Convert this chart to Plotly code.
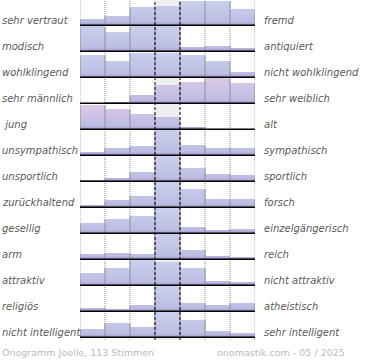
import plotly.graph_objects as go

left_labels = ["sehr vertraut", "modisch", "wohlklingend", "sehr männlich", " jung",
               "unsympathisch", "unsportlich", "zurückhaltend", "gesellig", "arm",
               "attraktiv", "religiös", "nicht intelligent"]
right_labels = ["fremd", "antiquiert", "nicht wohlklingend", "sehr weiblich", "alt",
                "sympathisch", "sportlich", "forsch", "einzelgängerisch", "reich",
                "nicht attraktiv", "atheistisch", "sehr intelligent"]

# bar heights per row (7 positions, scale 0..25, centre column clipped at 25)
row_vertraut = [6, 8.7, 17.7, 18.7, 24, 23.3, 15.3]
row_modisch = [24.3, 18.7, 24.3, 24.3, 3.7, 4.7, 2.3]
row_wohl = [22, 15.3, 23.7, 23.7, 21.3, 15.3, 4.7]
row_maennlich = [0, 0.5, 7.5, 17.8, 20.3, 24.4, 19.4]
row_jung = [23.7, 19.4, 15, 11.2, 2, 0, 0]
row_sympath = [2.3, 6.7, 8.3, 25, 10, 6.7, 6.7]
row_sport = [0.5, 2.7, 8.3, 25, 12.7, 7, 6]
row_forsch = [2, 6.3, 11, 25, 17.7, 7.7, 7.7]
row_gesellig = [10, 13.3, 17, 25, 5.7, 3, 4]
row_arm = [5, 6, 5, 25, 9, 2.3, 1.3]
row_attraktiv = [11.7, 16.7, 25, 22.7, 16.7, 3.3, 2.3]
row_religioes = [2.7, 1.7, 6, 25, 7.7, 6, 7.7]
row_intelligent = [8, 14, 10, 25, 16.7, 5.7, 3.3]

rows = [row_vertraut, row_modisch, row_wohl, row_maennlich, row_jung, row_sympath,
        row_sport, row_forsch, row_gesellig, row_arm, row_attraktiv, row_religioes,
        row_intelligent]
pink_rows = {3, 4}

ROW_PITCH = 26
ROW_H = 25
N = len(rows)
TOP = (N - 1) * ROW_PITCH + ROW_H  # 337


def baseline(r):
    return (N - 1 - r) * ROW_PITCH


def hex2rgb(h):
    h = h.lstrip("#")
    return [int(h[i:i + 2], 16) for i in (0, 2, 4)]


def mix(a, b, f):
    a, b = hex2rgb(a), hex2rgb(b)
    return "rgb(%d,%d,%d)" % tuple(round(a[i] + (b[i] - a[i]) * f) for i in range(3))


def color_at(t, pink):
    if t < 3:
        return mix("#a296ca", "#bcbde3", t / 3)
    top = "#e0c8e8" if pink else "#cad1ed"
    return mix("#bcbde3", top, min(1, (t - 3) / 22))


fig = go.Figure()

# gradient slices (1 unit each)
for k in range(ROW_H):
    xs, ys, bs, cs = [], [], [], []
    for r, vals in enumerate(rows):
        for c, v in enumerate(vals):
            hgt = min(max(v - k, 0), 1)
            if hgt > 0:
                xs.append(c + 0.5)
                ys.append(hgt)
                bs.append(baseline(r) + k)
                cs.append(color_at(k + 0.5, r in pink_rows))
    if xs:
        fig.add_trace(go.Bar(x=xs, y=ys, base=bs, width=1,
                             marker=dict(color=cs, line=dict(width=0)),
                             hoverinfo="skip"))

# vertical bar edges
ex, ey = [], []
for r, vals in enumerate(rows):
    for k in range(8):
        left = vals[k - 1] if k > 0 else 0
        right = vals[k] if k < 7 else 0
        hh = max(left, right)
        if hh > 0:
            ex += [k, k, None]
            ey += [baseline(r), baseline(r) + hh, None]
fig.add_trace(go.Scatter(x=ex, y=ey, mode="lines",
                         line=dict(color="#8e8e96", width=1), hoverinfo="skip"))

shapes = []
# middle column background
shapes.append(dict(type="rect", xref="x", yref="y", x0=3, x1=4, y0=-3, y1=TOP,
                   fillcolor="#eeeeee", line=dict(width=0), layer="below"))
for k in [0, 1, 2, 5, 6, 7]:
    shapes.append(dict(type="line", xref="x", yref="y", x0=k, x1=k, y0=-3, y1=TOP,
                       line=dict(color="#888888", width=1, dash="1px,1px"), layer="below"))
for r in range(N):
    shapes.append(dict(type="line", xref="x", yref="y", x0=0, x1=7,
                       y0=baseline(r) - 0.3, y1=baseline(r) - 0.3,
                       line=dict(color="#000000", width=1.6), layer="above"))
for k in [3, 4]:
    shapes.append(dict(type="line", xref="x", yref="y", x0=k, x1=k, y0=-3, y1=TOP,
                       line=dict(color="#000000", width=1, dash="3px,2px"), layer="above"))

annotations = []
lab_font = dict(family="DejaVu Sans", size=10, color="#5a5a5a", style="italic")
for r in range(N):
    annotations.append(dict(xref="paper", yref="y", x=-80 / 175, y=baseline(r) + 5,
                            text=left_labels[r], showarrow=False, xanchor="left",
                            yanchor="middle", font=lab_font))
    annotations.append(dict(xref="paper", yref="y", x=(262 - 80) / 175, y=baseline(r) + 5,
                            text=right_labels[r], showarrow=False, xanchor="left",
                            yanchor="middle", font=lab_font))
foot_font = dict(family="DejaVu Sans", size=9.5, color="#bbbbbb")
annotations.append(dict(xref="paper", yref="paper", x=-80 / 175, y=-12 / 340,
                        text="Onogramm Joelle, 113 Stimmen", showarrow=False,
                        xanchor="left", yanchor="middle", font=foot_font))
annotations.append(dict(xref="paper", yref="paper", x=(347 - 80) / 175, y=-12 / 340,
                        text="onomastik.com - 05 / 2025", showarrow=False,
                        xanchor="right", yanchor="middle", font=foot_font))

fig.update_layout(
    width=370, height=360,
    margin=dict(l=80, r=115, t=0, b=20, pad=0),
    paper_bgcolor="white", plot_bgcolor="white",
    showlegend=False, barmode="overlay", bargap=0,
    xaxis=dict(range=[0, 7], visible=False, fixedrange=True),
    yaxis=dict(range=[-3, TOP], visible=False, fixedrange=True),
    shapes=shapes, annotations=annotations,
)

fig.write_html("out.html", config=dict(displayModeBar=False),
               post_script="document.body.style.margin='0';document.body.style.padding='0';")
